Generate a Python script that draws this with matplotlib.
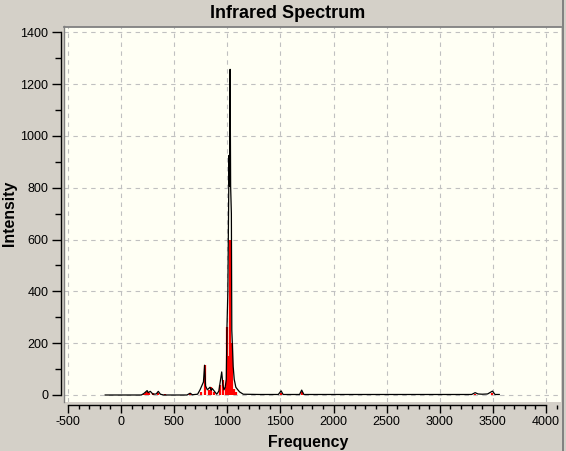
import matplotlib
matplotlib.use("Agg")
import matplotlib.pyplot as plt
from matplotlib.lines import Line2D
from matplotlib.ticker import MultipleLocator

# Broadened spectrum (black curve)
curve_freq = [-150, 190, 215, 245, 255, 275, 300, 330, 350, 370, 400, 620, 650, 670,
              720, 743, 775, 786, 795, 812, 837, 848, 858, 900, 920, 947, 958, 968,
              980, 990, 997, 1005, 1016, 1021, 1026, 1031, 1038, 1042, 1047, 1055,
              1065, 1080, 1095, 1115, 1150, 1300, 1480, 1506, 1525, 1680, 1700, 1720,
              2500, 3300, 3333, 3360, 3400, 3450, 3496, 3520, 3560]
curve_int = [0, 0, 6, 17, 9, 14, 3, 4, 14, 3, 0, 0, 7, 1,
             3, 20, 50, 115, 35, 20, 30, 18, 25, 3, 15, 89, 40, 20,
             30, 60, 270, 400, 925, 806, 1257, 806, 700, 250, 200, 110,
             60, 30, 22, 12, 3, 2, 2, 16, 2, 2, 19, 2,
             2, 2, 9, 4, 3, 4, 15, 2, 2]

# Individual transitions (red sticks)
stick_freq = [215, 235, 250, 265, 300, 345, 410, 650, 700, 750, 790, 830, 847, 875,
              935, 957, 990, 994, 1012, 1026, 1045, 1060, 1085, 1506, 1700, 3330, 3496]
stick_int = [5, 10, 12, 8, 6, 8, 5, 9, 4, 10, 115, 20, 30, 10,
             40, 58, 30, 263, 150, 600, 200, 25, 10, 8, 10, 3, 8]

x_ticks = list(range(-500, 4001, 500))
y_ticks = list(range(0, 1401, 200))

W, H = 566, 451
BG = "#D4D0C8"
PLOT_BG = "#FFFFF4"
plt.rcParams['font.family'] = ['Liberation Sans', 'DejaVu Sans']

fig = plt.figure(figsize=(W / 100, H / 100), dpi=100, facecolor=BG)
ax_l, ax_r, ax_t, ax_b = 64, 561, 26.5, 401.5
ax = fig.add_axes([ax_l / W, 1 - ax_b / H, (ax_r - ax_l) / W, (ax_b - ax_t) / H])
ax.set_facecolor(PLOT_BG)

ax.set_xlim(-537.7, 4141.2)
ax.set_ylim(-25.1, 1422.4)

ax.vlines(stick_freq, 0, stick_int, color="#FF0000", lw=1.6, zorder=3)
ax.plot(curve_freq, curve_int, color="black", lw=0.9, zorder=4)

ax.xaxis.set_major_locator(MultipleLocator(500))
ax.xaxis.set_minor_locator(MultipleLocator(100))
ax.yaxis.set_major_locator(MultipleLocator(200))
ax.yaxis.set_minor_locator(MultipleLocator(100))
ax.set_xticks(x_ticks)
ax.set_yticks(y_ticks)
ax.set_xticklabels([str(v) for v in x_ticks])
ax.set_yticklabels([str(v) for v in y_ticks])

ax.grid(True, which="major", color="#C0C0C0", lw=0.8, linestyle=(0, (4, 4)), zorder=1)

for s in ("left", "bottom"):
    ax.spines[s].set_position(("outward", 2.2))
    ax.spines[s].set_color("black")
    ax.spines[s].set_linewidth(1.0)
ax.spines["left"].set_bounds(0, 1400)
ax.spines["bottom"].set_bounds(-500, 4000)
ax.spines["right"].set_visible(False)
ax.spines["top"].set_color("#808080")
ax.spines["top"].set_linewidth(1.3)

ax.tick_params(axis="y", which="major", direction="out", length=6.5, width=1.0,
               pad=2.5, labelsize=9, colors="black")
ax.tick_params(axis="y", which="minor", direction="out", length=4.5, width=1.0)
ax.tick_params(axis="x", which="major", direction="out", length=5.4, width=1.0,
               pad=3.0, labelsize=9, colors="black")
ax.tick_params(axis="x", which="minor", direction="out", length=3.0, width=1.0)

# plot-area left border and window right edge
fig.add_artist(Line2D([63.5 / W, 63.5 / W], [1 - 402 / H, 1 - 25.5 / H],
                      color="#808080", lw=1.0, transform=fig.transFigure))
fig.add_artist(Line2D([562.5 / W, 562.5 / W], [0, 1],
                      color="#808080", lw=1.4, transform=fig.transFigure))

fig.text(287.5 / W, 1 - 17.5 / H, "Infrared Spectrum", ha="center", va="baseline",
         fontsize=13, fontweight="bold")
fig.text(308.3 / W, 1 - 446.5 / H, "Frequency", ha="center", va="baseline",
         fontsize=11.4, fontweight="bold")
fig.text(9.5 / W, 1 - 213 / H, "Intensity", ha="center", va="center", rotation=90,
         fontsize=11.4, fontweight="bold")

fig.savefig("out.png", dpi=100, facecolor=BG)
